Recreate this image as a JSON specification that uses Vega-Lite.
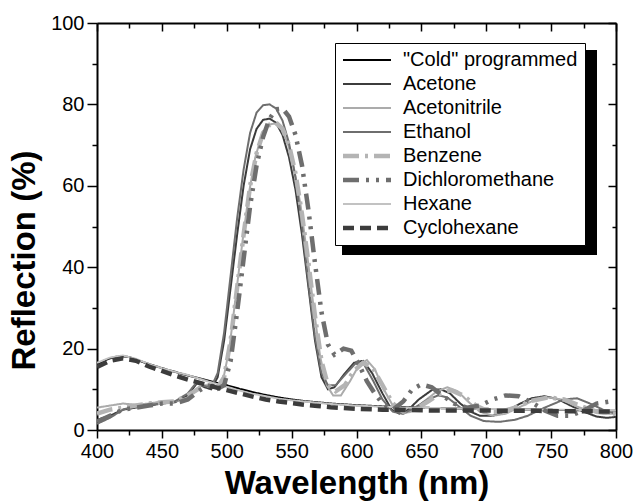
{
  "$schema": "https://vega.github.io/schema/vega-lite/v6.json",
  "width": 519,
  "height": 407,
  "autosize": {"type": "none"},
  "padding": {"left": 97, "top": 23, "right": 22, "bottom": 71},
  "background": "white",
  "config": {
    "view": {"stroke": null},
    "font": "Liberation Sans",
    "axis": {
      "domainColor": "black", "domainWidth": 2, "tickColor": "black", "tickWidth": 1.5,
      "labelFont": "Liberation Sans", "labelFontSize": 20, "labelColor": "black",
      "titleFont": "Liberation Sans", "titleFontSize": 33, "titleFontWeight": "bold", "titleColor": "black",
      "grid": false
    },
    "legend": {
      "labelFont": "Liberation Sans", "labelFontSize": 20, "labelColor": "black"
    }
  },
  "data": {"values": [
    {"s":"\"Cold\" programmed","x":400,"y":16},{"s":"\"Cold\" programmed","x":405,"y":17},{"s":"\"Cold\" programmed","x":410,"y":17.6},{"s":"\"Cold\" programmed","x":415,"y":18},{"s":"\"Cold\" programmed","x":420,"y":18.1},{"s":"\"Cold\" programmed","x":425,"y":17.9},{"s":"\"Cold\" programmed","x":430,"y":17.3},{"s":"\"Cold\" programmed","x":440,"y":16.2},{"s":"\"Cold\" programmed","x":450,"y":15.2},{"s":"\"Cold\" programmed","x":460,"y":14.3},{"s":"\"Cold\" programmed","x":470,"y":13.4},{"s":"\"Cold\" programmed","x":480,"y":12.6},{"s":"\"Cold\" programmed","x":490,"y":11.8},{"s":"\"Cold\" programmed","x":500,"y":11},{"s":"\"Cold\" programmed","x":510,"y":10.1},{"s":"\"Cold\" programmed","x":520,"y":9.3},{"s":"\"Cold\" programmed","x":530,"y":8.6},{"s":"\"Cold\" programmed","x":540,"y":8},{"s":"\"Cold\" programmed","x":550,"y":7.5},{"s":"\"Cold\" programmed","x":560,"y":7.1},{"s":"\"Cold\" programmed","x":570,"y":6.8},{"s":"\"Cold\" programmed","x":580,"y":6.5},{"s":"\"Cold\" programmed","x":590,"y":6.3},{"s":"\"Cold\" programmed","x":600,"y":6.1},{"s":"\"Cold\" programmed","x":620,"y":5.8},{"s":"\"Cold\" programmed","x":640,"y":5.6},{"s":"\"Cold\" programmed","x":660,"y":5.4},{"s":"\"Cold\" programmed","x":680,"y":5.3},{"s":"\"Cold\" programmed","x":700,"y":5.2},{"s":"\"Cold\" programmed","x":720,"y":5.1},{"s":"\"Cold\" programmed","x":740,"y":5},{"s":"\"Cold\" programmed","x":760,"y":4.9},{"s":"\"Cold\" programmed","x":780,"y":4.8},{"s":"\"Cold\" programmed","x":800,"y":4.7},

    {"s":"Acetone","x":400,"y":2.5},{"s":"Acetone","x":410,"y":3.5},{"s":"Acetone","x":420,"y":5},{"s":"Acetone","x":430,"y":5.5},{"s":"Acetone","x":440,"y":6},{"s":"Acetone","x":450,"y":6.5},{"s":"Acetone","x":460,"y":6.8},{"s":"Acetone","x":470,"y":8.5},{"s":"Acetone","x":477,"y":11.5},{"s":"Acetone","x":483,"y":10.5},{"s":"Acetone","x":488,"y":10},{"s":"Acetone","x":493,"y":13},{"s":"Acetone","x":498,"y":22},{"s":"Acetone","x":503,"y":35},{"s":"Acetone","x":508,"y":48},{"s":"Acetone","x":513,"y":60},{"s":"Acetone","x":518,"y":69},{"s":"Acetone","x":523,"y":74},{"s":"Acetone","x":528,"y":76.2},{"s":"Acetone","x":533,"y":76.5},{"s":"Acetone","x":538,"y":75.5},{"s":"Acetone","x":543,"y":72.5},{"s":"Acetone","x":548,"y":67},{"s":"Acetone","x":553,"y":59},{"s":"Acetone","x":558,"y":48},{"s":"Acetone","x":563,"y":35},{"s":"Acetone","x":568,"y":22},{"s":"Acetone","x":573,"y":13},{"s":"Acetone","x":578,"y":10},{"s":"Acetone","x":583,"y":10.5},{"s":"Acetone","x":590,"y":13.5},{"s":"Acetone","x":598,"y":16.5},{"s":"Acetone","x":605,"y":17},{"s":"Acetone","x":612,"y":14},{"s":"Acetone","x":620,"y":9},{"s":"Acetone","x":627,"y":5},{"s":"Acetone","x":633,"y":4},{"s":"Acetone","x":640,"y":5},{"s":"Acetone","x":648,"y":7.5},{"s":"Acetone","x":658,"y":9.8},{"s":"Acetone","x":665,"y":10},{"s":"Acetone","x":672,"y":9},{"s":"Acetone","x":680,"y":6.5},{"s":"Acetone","x":688,"y":4.5},{"s":"Acetone","x":695,"y":3.5},{"s":"Acetone","x":705,"y":3.5},{"s":"Acetone","x":715,"y":4.5},{"s":"Acetone","x":725,"y":6.3},{"s":"Acetone","x":735,"y":7.8},{"s":"Acetone","x":745,"y":8.3},{"s":"Acetone","x":755,"y":7.6},{"s":"Acetone","x":765,"y":6},{"s":"Acetone","x":775,"y":4.5},{"s":"Acetone","x":785,"y":3.3},{"s":"Acetone","x":793,"y":3},{"s":"Acetone","x":800,"y":3.2},

    {"s":"Acetonitrile","x":400,"y":5.5},{"s":"Acetonitrile","x":410,"y":6},{"s":"Acetonitrile","x":420,"y":6.5},{"s":"Acetonitrile","x":430,"y":6.2},{"s":"Acetonitrile","x":440,"y":6.5},{"s":"Acetonitrile","x":450,"y":7},{"s":"Acetonitrile","x":460,"y":7},{"s":"Acetonitrile","x":470,"y":8},{"s":"Acetonitrile","x":480,"y":11},{"s":"Acetonitrile","x":486,"y":11},{"s":"Acetonitrile","x":492,"y":10.5},{"s":"Acetonitrile","x":497,"y":12},{"s":"Acetonitrile","x":502,"y":20},{"s":"Acetonitrile","x":507,"y":33},{"s":"Acetonitrile","x":512,"y":46},{"s":"Acetonitrile","x":517,"y":58},{"s":"Acetonitrile","x":522,"y":67},{"s":"Acetonitrile","x":527,"y":72.5},{"s":"Acetonitrile","x":532,"y":75},{"s":"Acetonitrile","x":537,"y":75.3},{"s":"Acetonitrile","x":542,"y":74},{"s":"Acetonitrile","x":547,"y":70.5},{"s":"Acetonitrile","x":552,"y":64},{"s":"Acetonitrile","x":557,"y":55},{"s":"Acetonitrile","x":562,"y":43},{"s":"Acetonitrile","x":567,"y":30},{"s":"Acetonitrile","x":572,"y":18},{"s":"Acetonitrile","x":577,"y":11},{"s":"Acetonitrile","x":582,"y":8.5},{"s":"Acetonitrile","x":588,"y":8.5},{"s":"Acetonitrile","x":595,"y":12},{"s":"Acetonitrile","x":602,"y":16},{"s":"Acetonitrile","x":608,"y":17.2},{"s":"Acetonitrile","x":614,"y":15},{"s":"Acetonitrile","x":621,"y":10},{"s":"Acetonitrile","x":628,"y":6},{"s":"Acetonitrile","x":635,"y":4},{"s":"Acetonitrile","x":642,"y":4.5},{"s":"Acetonitrile","x":652,"y":7},{"s":"Acetonitrile","x":662,"y":9.5},{"s":"Acetonitrile","x":670,"y":10.5},{"s":"Acetonitrile","x":678,"y":9.5},{"s":"Acetonitrile","x":686,"y":7},{"s":"Acetonitrile","x":695,"y":4.5},{"s":"Acetonitrile","x":705,"y":3.5},{"s":"Acetonitrile","x":715,"y":4},{"s":"Acetonitrile","x":725,"y":5.5},{"s":"Acetonitrile","x":738,"y":7.5},{"s":"Acetonitrile","x":748,"y":8},{"s":"Acetonitrile","x":758,"y":7.5},{"s":"Acetonitrile","x":768,"y":6},{"s":"Acetonitrile","x":778,"y":4.8},{"s":"Acetonitrile","x":790,"y":4},{"s":"Acetonitrile","x":800,"y":4},

    {"s":"Ethanol","x":400,"y":1.5},{"s":"Ethanol","x":410,"y":3},{"s":"Ethanol","x":420,"y":5},{"s":"Ethanol","x":430,"y":6},{"s":"Ethanol","x":440,"y":6.2},{"s":"Ethanol","x":450,"y":6.5},{"s":"Ethanol","x":460,"y":7},{"s":"Ethanol","x":470,"y":9},{"s":"Ethanol","x":477,"y":11.8},{"s":"Ethanol","x":483,"y":10.8},{"s":"Ethanol","x":488,"y":10.5},{"s":"Ethanol","x":493,"y":14},{"s":"Ethanol","x":498,"y":24},{"s":"Ethanol","x":503,"y":38},{"s":"Ethanol","x":508,"y":52},{"s":"Ethanol","x":513,"y":64},{"s":"Ethanol","x":518,"y":73},{"s":"Ethanol","x":523,"y":78},{"s":"Ethanol","x":528,"y":79.8},{"s":"Ethanol","x":533,"y":80},{"s":"Ethanol","x":538,"y":79},{"s":"Ethanol","x":543,"y":76},{"s":"Ethanol","x":548,"y":70.5},{"s":"Ethanol","x":553,"y":62},{"s":"Ethanol","x":558,"y":50},{"s":"Ethanol","x":563,"y":36},{"s":"Ethanol","x":568,"y":23},{"s":"Ethanol","x":573,"y":14},{"s":"Ethanol","x":578,"y":11},{"s":"Ethanol","x":584,"y":11},{"s":"Ethanol","x":591,"y":13.5},{"s":"Ethanol","x":599,"y":16.3},{"s":"Ethanol","x":606,"y":16},{"s":"Ethanol","x":613,"y":12},{"s":"Ethanol","x":620,"y":7.5},{"s":"Ethanol","x":628,"y":4.5},{"s":"Ethanol","x":636,"y":4},{"s":"Ethanol","x":645,"y":5.5},{"s":"Ethanol","x":655,"y":7.5},{"s":"Ethanol","x":663,"y":8.5},{"s":"Ethanol","x":670,"y":8},{"s":"Ethanol","x":678,"y":6},{"s":"Ethanol","x":688,"y":3.5},{"s":"Ethanol","x":698,"y":2.2},{"s":"Ethanol","x":710,"y":2},{"s":"Ethanol","x":722,"y":2.5},{"s":"Ethanol","x":732,"y":3.5},{"s":"Ethanol","x":745,"y":5.5},{"s":"Ethanol","x":760,"y":7.5},{"s":"Ethanol","x":770,"y":7.8},{"s":"Ethanol","x":780,"y":6.5},{"s":"Ethanol","x":790,"y":5},{"s":"Ethanol","x":800,"y":4},

    {"s":"Benzene","x":400,"y":4},{"s":"Benzene","x":410,"y":5},{"s":"Benzene","x":420,"y":5.5},{"s":"Benzene","x":430,"y":6},{"s":"Benzene","x":440,"y":6.5},{"s":"Benzene","x":450,"y":6.8},{"s":"Benzene","x":460,"y":7},{"s":"Benzene","x":470,"y":8.5},{"s":"Benzene","x":480,"y":10.5},{"s":"Benzene","x":487,"y":11},{"s":"Benzene","x":493,"y":10.5},{"s":"Benzene","x":498,"y":13},{"s":"Benzene","x":503,"y":22},{"s":"Benzene","x":508,"y":35},{"s":"Benzene","x":513,"y":48},{"s":"Benzene","x":518,"y":60},{"s":"Benzene","x":523,"y":68},{"s":"Benzene","x":528,"y":73},{"s":"Benzene","x":533,"y":75},{"s":"Benzene","x":538,"y":75.5},{"s":"Benzene","x":543,"y":74},{"s":"Benzene","x":548,"y":70},{"s":"Benzene","x":553,"y":63},{"s":"Benzene","x":558,"y":53},{"s":"Benzene","x":563,"y":41},{"s":"Benzene","x":568,"y":28},{"s":"Benzene","x":573,"y":17},{"s":"Benzene","x":578,"y":11},{"s":"Benzene","x":584,"y":9.5},{"s":"Benzene","x":591,"y":11},{"s":"Benzene","x":598,"y":14.5},{"s":"Benzene","x":605,"y":16.5},{"s":"Benzene","x":612,"y":15.5},{"s":"Benzene","x":620,"y":11},{"s":"Benzene","x":628,"y":6.5},{"s":"Benzene","x":636,"y":4.5},{"s":"Benzene","x":645,"y":5},{"s":"Benzene","x":655,"y":7},{"s":"Benzene","x":665,"y":9},{"s":"Benzene","x":673,"y":9.8},{"s":"Benzene","x":682,"y":8.5},{"s":"Benzene","x":692,"y":6},{"s":"Benzene","x":702,"y":4.5},{"s":"Benzene","x":712,"y":4.5},{"s":"Benzene","x":722,"y":5.5},{"s":"Benzene","x":735,"y":7.2},{"s":"Benzene","x":748,"y":8},{"s":"Benzene","x":760,"y":7.5},{"s":"Benzene","x":772,"y":6},{"s":"Benzene","x":785,"y":4.5},{"s":"Benzene","x":800,"y":4},

    {"s":"Dichloromethane","x":400,"y":2},{"s":"Dichloromethane","x":410,"y":3.5},{"s":"Dichloromethane","x":420,"y":5},{"s":"Dichloromethane","x":430,"y":5.5},{"s":"Dichloromethane","x":440,"y":6},{"s":"Dichloromethane","x":450,"y":6.5},{"s":"Dichloromethane","x":460,"y":6.5},{"s":"Dichloromethane","x":470,"y":7.5},{"s":"Dichloromethane","x":478,"y":9.5},{"s":"Dichloromethane","x":485,"y":11},{"s":"Dichloromethane","x":492,"y":10},{"s":"Dichloromethane","x":498,"y":11},{"s":"Dichloromethane","x":503,"y":17},{"s":"Dichloromethane","x":508,"y":29},{"s":"Dichloromethane","x":513,"y":42},{"s":"Dichloromethane","x":518,"y":55},{"s":"Dichloromethane","x":523,"y":65},{"s":"Dichloromethane","x":528,"y":72},{"s":"Dichloromethane","x":533,"y":76.5},{"s":"Dichloromethane","x":538,"y":78.8},{"s":"Dichloromethane","x":543,"y":79},{"s":"Dichloromethane","x":548,"y":77},{"s":"Dichloromethane","x":553,"y":72.5},{"s":"Dichloromethane","x":558,"y":65},{"s":"Dichloromethane","x":563,"y":54},{"s":"Dichloromethane","x":568,"y":41},{"s":"Dichloromethane","x":573,"y":29},{"s":"Dichloromethane","x":578,"y":21},{"s":"Dichloromethane","x":583,"y":18.5},{"s":"Dichloromethane","x":590,"y":20},{"s":"Dichloromethane","x":596,"y":19.5},{"s":"Dichloromethane","x":602,"y":16},{"s":"Dichloromethane","x":608,"y":12},{"s":"Dichloromethane","x":614,"y":9},{"s":"Dichloromethane","x":620,"y":6.5},{"s":"Dichloromethane","x":628,"y":5},{"s":"Dichloromethane","x":636,"y":7},{"s":"Dichloromethane","x":643,"y":10},{"s":"Dichloromethane","x":650,"y":11.2},{"s":"Dichloromethane","x":658,"y":10.5},{"s":"Dichloromethane","x":666,"y":8.5},{"s":"Dichloromethane","x":675,"y":6.5},{"s":"Dichloromethane","x":685,"y":5.5},{"s":"Dichloromethane","x":695,"y":6},{"s":"Dichloromethane","x":705,"y":7.5},{"s":"Dichloromethane","x":715,"y":8.5},{"s":"Dichloromethane","x":725,"y":8.3},{"s":"Dichloromethane","x":735,"y":6.8},{"s":"Dichloromethane","x":745,"y":4.8},{"s":"Dichloromethane","x":755,"y":3.5},{"s":"Dichloromethane","x":765,"y":3.5},{"s":"Dichloromethane","x":775,"y":4.8},{"s":"Dichloromethane","x":785,"y":6.5},{"s":"Dichloromethane","x":795,"y":7},{"s":"Dichloromethane","x":800,"y":6.8},

    {"s":"Hexane","x":400,"y":16.5},{"s":"Hexane","x":410,"y":17.8},{"s":"Hexane","x":420,"y":18.3},{"s":"Hexane","x":430,"y":17.5},{"s":"Hexane","x":440,"y":16.2},{"s":"Hexane","x":450,"y":15.2},{"s":"Hexane","x":460,"y":14.3},{"s":"Hexane","x":470,"y":13.5},{"s":"Hexane","x":480,"y":12.5},{"s":"Hexane","x":490,"y":11.5},{"s":"Hexane","x":500,"y":10.6},{"s":"Hexane","x":510,"y":9.7},{"s":"Hexane","x":520,"y":8.9},{"s":"Hexane","x":530,"y":8.3},{"s":"Hexane","x":540,"y":7.7},{"s":"Hexane","x":550,"y":7.3},{"s":"Hexane","x":560,"y":7},{"s":"Hexane","x":570,"y":6.7},{"s":"Hexane","x":580,"y":6.4},{"s":"Hexane","x":600,"y":6},{"s":"Hexane","x":620,"y":5.7},{"s":"Hexane","x":640,"y":5.5},{"s":"Hexane","x":660,"y":5.4},{"s":"Hexane","x":680,"y":5.3},{"s":"Hexane","x":700,"y":5.2},{"s":"Hexane","x":720,"y":5.1},{"s":"Hexane","x":740,"y":5},{"s":"Hexane","x":760,"y":5},{"s":"Hexane","x":780,"y":4.9},{"s":"Hexane","x":800,"y":4.8},

    {"s":"Cyclohexane","x":400,"y":15.5},{"s":"Cyclohexane","x":410,"y":17},{"s":"Cyclohexane","x":420,"y":17.6},{"s":"Cyclohexane","x":430,"y":17},{"s":"Cyclohexane","x":440,"y":15.6},{"s":"Cyclohexane","x":450,"y":14.5},{"s":"Cyclohexane","x":460,"y":13.4},{"s":"Cyclohexane","x":470,"y":12.4},{"s":"Cyclohexane","x":480,"y":11.5},{"s":"Cyclohexane","x":490,"y":10.6},{"s":"Cyclohexane","x":500,"y":9.8},{"s":"Cyclohexane","x":510,"y":9},{"s":"Cyclohexane","x":520,"y":8.2},{"s":"Cyclohexane","x":530,"y":7.5},{"s":"Cyclohexane","x":540,"y":7},{"s":"Cyclohexane","x":550,"y":6.6},{"s":"Cyclohexane","x":560,"y":6.2},{"s":"Cyclohexane","x":570,"y":5.9},{"s":"Cyclohexane","x":580,"y":5.6},{"s":"Cyclohexane","x":600,"y":5.2},{"s":"Cyclohexane","x":620,"y":5},{"s":"Cyclohexane","x":640,"y":4.9},{"s":"Cyclohexane","x":660,"y":4.8},{"s":"Cyclohexane","x":680,"y":4.8},{"s":"Cyclohexane","x":700,"y":4.8},{"s":"Cyclohexane","x":720,"y":4.7},{"s":"Cyclohexane","x":740,"y":4.7},{"s":"Cyclohexane","x":760,"y":4.6},{"s":"Cyclohexane","x":780,"y":4.6},{"s":"Cyclohexane","x":800,"y":4.5}
  ]},
  "layer": [
    {
      "mark": {"type": "point", "opacity": 0},
      "encoding": {
        "x": {"field": "x", "type": "quantitative", "scale": {"domain": [400, 800], "nice": false, "zero": false},
          "axis": {"orient": "top", "title": null, "labels": false,
            "values": [400,425,450,475,500,525,550,575,600,625,650,675,700,725,750,775,800],
            "tickSize": {"condition": {"test": "datum.value % 50 === 0", "value": -8}, "value": -5}}},
        "y": {"field": "y", "type": "quantitative", "scale": {"domain": [0, 100], "nice": false},
          "axis": {"orient": "right", "title": null, "labels": false,
            "values": [0,10,20,30,40,50,60,70,80,90,100],
            "tickSize": {"condition": {"test": "datum.value % 20 === 0", "value": -8}, "value": -4}}},
        "fill": {"field": "s", "type": "nominal",
          "scale": {"domain": ["\"Cold\" programmed"], "range": ["black"]},
          "legend": {"title": null, "orient": "none", "legendX": 233, "legendY": 15,
            "padding": 0, "symbolType": "M0,0H21.25V17.08H0Z", "symbolSize": 576,
            "symbolOffset": 0, "labelExpr": "''", "labelOffset": 0,
            "symbolStrokeColor": "black", "symbolFillColor": "black", "symbolStrokeWidth": 0, "symbolOpacity": 1}}
      }
    },
    {
      "transform": [{"filter": {"field": "s", "oneOf": ["\"Cold\" programmed","Acetone","Acetonitrile","Ethanol","Hexane"]}}],
      "mark": {"type": "line", "clip": true, "strokeWidth": 2},
      "encoding": {
        "x": {"field": "x", "type": "quantitative",
          "title": "Wavelength (nm)",
          "axis": {"orient": "bottom", "values": [400,425,450,475,500,525,550,575,600,625,650,675,700,725,750,775,800],
            "labelExpr": "datum.value % 50 === 0 ? datum.label : ''",
            "tickSize": {"condition": {"test": "datum.value % 50 === 0", "value": 8}, "value": 5},
            "labelPadding": 3, "titlePadding": 6, "labelFlush": false}},
        "y": {"field": "y", "type": "quantitative",
          "title": "Reflection (%)",
          "axis": {"orient": "left", "values": [0,10,20,30,40,50,60,70,80,90,100],
            "labelExpr": "datum.value % 20 === 0 ? datum.label : ''",
            "tickSize": {"condition": {"test": "datum.value % 20 === 0", "value": 10}, "value": 5},
            "labelPadding": 3, "titlePadding": 9, "titleY": 237, "labelFlush": false}},
        "stroke": {"field": "s", "type": "nominal",
          "scale": {"domain": ["\"Cold\" programmed","Acetone","Acetonitrile","Ethanol","Benzene","Dichloromethane","Hexane","Cyclohexane"],
            "range": ["#000000","#3c3c3c","#ababab","#6e6e6e","#b4b4b4","#6e6e6e","#c2c2c2","#3c3c3c"]},
          "legend": {"title": null, "orient": "none", "legendX": 238, "legendY": 20,
            "fillColor": "white", "strokeColor": "black", "padding": 7,
            "symbolType": "M-2,0H2", "symbolSize": 576, "symbolOffset": 15, "labelOffset": 26,
            "rowPadding": 4, "labelLimit": 300,
            "encode": {"symbols": {"update": {"strokeWidth": {"signal": "indexof(['Benzene','Dichloromethane','Cyclohexane'], datum.value) >= 0 ? 4.5 : 2"}}}}}},
        "strokeDash": {"field": "s", "type": "nominal",
          "scale": {"domain": ["\"Cold\" programmed","Acetone","Acetonitrile","Ethanol","Benzene","Dichloromethane","Hexane","Cyclohexane"],
            "range": [[1,0],[1,0],[1,0],[1,0],[16,6,3,6],[16,7,3,7,3,7],[1,0],[11,6]]},
          "legend": {"title": null}}
      }
    },
    {
      "transform": [{"filter": {"field": "s", "oneOf": ["Benzene","Dichloromethane","Cyclohexane"]}}],
      "mark": {"type": "line", "clip": true, "strokeWidth": 4.5},
      "encoding": {
        "x": {"field": "x", "type": "quantitative", "axis": null},
        "y": {"field": "y", "type": "quantitative", "axis": null},
        "stroke": {"field": "s", "type": "nominal"},
        "strokeDash": {"field": "s", "type": "nominal"}
      }
    }
  ],
  "resolve": {"axis": {"x": "independent", "y": "independent"}}
}
